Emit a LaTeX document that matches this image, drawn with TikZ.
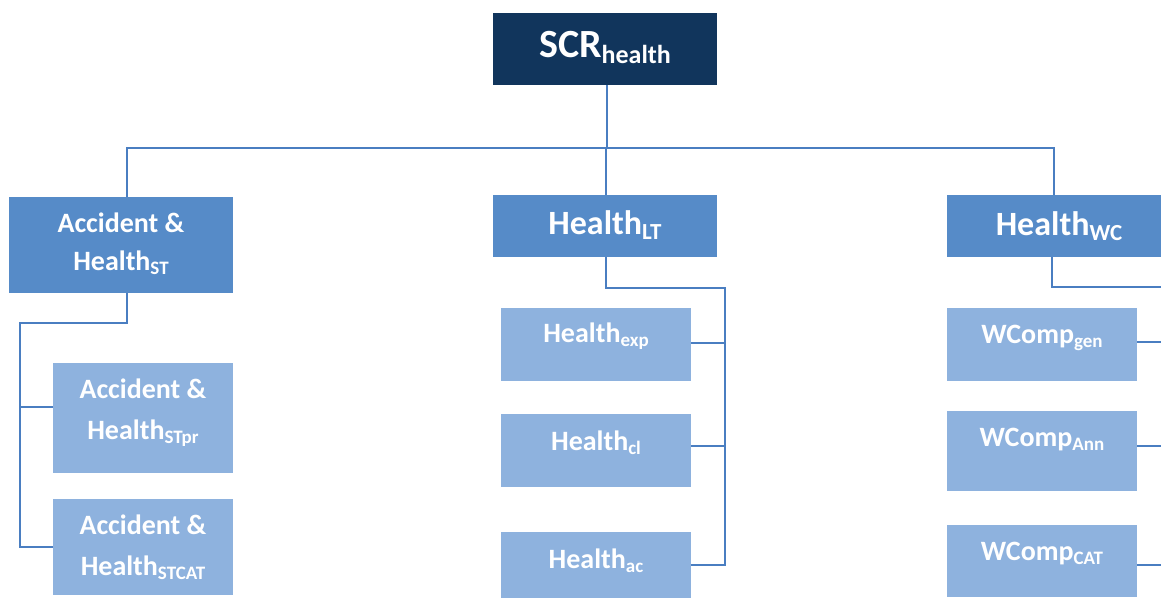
\documentclass[tikz,border=0pt]{standalone}
\usepackage{fontspec}
\setmainfont{Carlito}
\usepackage{tikz}
\usetikzlibrary{positioning}

\definecolor{navy}{RGB}{17,53,92}
\definecolor{midblue}{RGB}{86,139,200}
\definecolor{lightblue}{RGB}{142,178,222}
\definecolor{linkblue}{RGB}{74,126,193}

\newcommand{\subsz}{18}
\newcommand{\lo}[1]{\raisebox{-0.15em}{\fontsize{\subsz}{\subsz}\selectfont #1}}

\tikzset{
  topbox/.style={fill=navy, text=white, inner sep=0, minimum width=224,
    font={\fontsize{40}{48}\selectfont\bfseries\renewcommand{\subsz}{26}}},
  midbox/.style={fill=midblue, text=white, inner sep=0, minimum width=224, align=center,
    font={\fontsize{34}{40}\selectfont\bfseries\renewcommand{\subsz}{23}}},
  accbox/.style={fill=midblue, text=white, inner sep=0, minimum width=224, align=center,
    font={\fontsize{28}{38}\selectfont\bfseries\renewcommand{\subsz}{19}}},
  leaf/.style={fill=lightblue, text=white, inner sep=0, minimum width=190, align=center,
    font={\fontsize{28}{41}\selectfont\bfseries\renewcommand{\subsz}{19}}},
  link/.style={draw=linkblue, line width=2pt}
}

\begin{document}
\begin{tikzpicture}[x=1pt, y=-1pt]
\useasboundingbox (0,0) rectangle (1161,599);
\clip (0,0) rectangle (1161,599);

% top
\node[topbox, minimum height=72, text height=28pt, text depth=10pt] (scr) at (605,49) {SCR\lo{health}};

% second row
\node[accbox, minimum height=96, text height=56pt, text depth=6pt] (acc) at (121,245) {Accident \&\\Health\lo{ST}};
\node[midbox, minimum height=62, text height=24pt, text depth=8pt] (lt) at (605,226) {Health\lo{LT}};
\node[midbox, minimum height=62, text height=24pt, text depth=6pt] (wc) at (1059,226) {Health\lo{WC}};

% accident and health, short term
\node[leaf, minimum width=180, minimum height=110, text height=48pt, text depth=6pt] (stpr) at (143,418) {Accident \&\\Health\lo{STpr}};
\node[leaf, minimum width=180, minimum height=96, text height=62pt, text depth=6pt] (stcat) at (143,547) {Accident \&\\Health\lo{STCAT}};

% health, long term
\node[leaf, minimum height=73, text height=20pt, text depth=25pt] (exp) at (596,344.5) {Health\lo{exp}};
\node[leaf, minimum height=73, text height=20pt, text depth=21pt] (cl) at (596,450.5) {Health\lo{cl}};
\node[leaf, minimum height=66, text height=20pt, text depth=14pt] (ac) at (596,565) {Health\lo{ac}};

% workers' compensation
\node[leaf, minimum height=73, text height=20pt, text depth=23pt] (gen) at (1042,344.5) {WComp\lo{gen}};
\node[leaf, minimum height=80, text height=20pt, text depth=30pt] (ann) at (1042,451) {WComp\lo{Ann}};
\node[leaf, minimum height=72, text height=20pt, text depth=22pt] (cat) at (1042,561) {WComp\lo{CAT}};

% connectors
\coordinate (hub) at (607,148);
\draw[link] ([xshift=2pt]scr.south) -- ([xshift=2pt]scr.south |- hub);
\draw[link] ([xshift=6pt]acc.north) |- ([xshift=-5pt]wc.north |- hub) -- ([xshift=-5pt]wc.north);
\draw[link] ([xshift=1pt]lt.north) -- ([xshift=1pt]lt.north |- hub);

\coordinate (lrail) at (20,323);
\draw[link] ([xshift=6pt]acc.south) |- (lrail) |- (stcat.west);
\draw[link] ([yshift=11pt]stpr.west) -- ([yshift=11pt]stpr.west -| lrail);

\coordinate (mrail) at (725,288);
\draw[link] ([xshift=1pt]lt.south) |- (mrail) |- (ac.east);
\draw[link] ([yshift=2pt]exp.east) -- ([yshift=2pt]exp.east -| mrail);
\draw[link] ([yshift=5pt]cl.east) -- ([yshift=5pt]cl.east -| mrail);

\coordinate (rrail) at (1185,287);
\draw[link] ([xshift=-7pt]wc.south) |- (rrail) |- ([yshift=-4pt]cat.east);
\draw[link] ([yshift=3pt]gen.east) -- ([yshift=3pt]gen.east -| rrail);
\draw[link] ([yshift=5pt]ann.east) -- ([yshift=5pt]ann.east -| rrail);
\end{tikzpicture}
\end{document}
